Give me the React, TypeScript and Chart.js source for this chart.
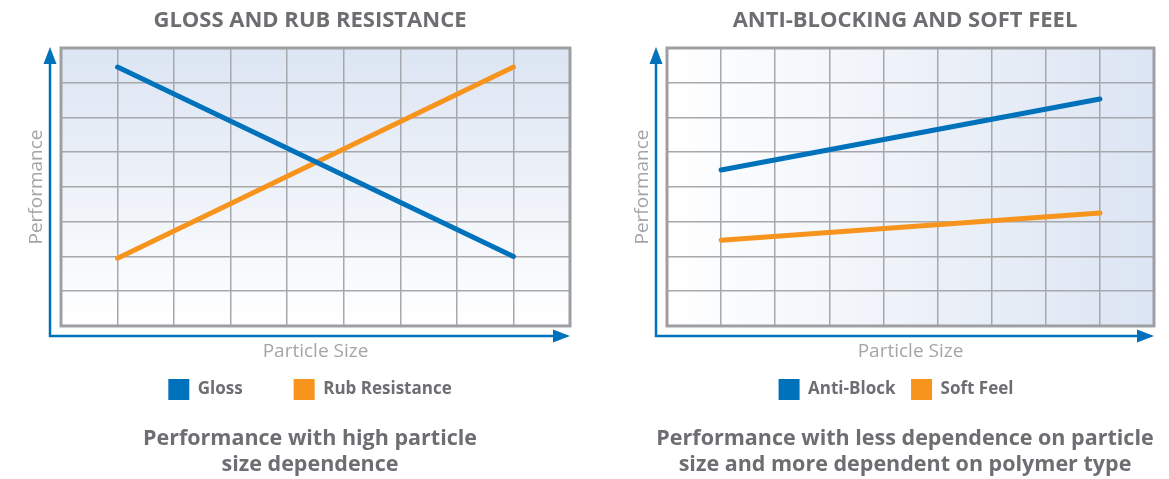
import React, { useEffect, useRef } from "react";
import { Chart, registerables } from "chart.js";

Chart.register(...registerables);

// ---- data ----
const particleSizePositions = [1, 8];
const glossValues = [7.45, 2.0];
const rubResistanceValues = [1.95, 7.45];
const antiBlockValues = [4.49, 6.53];
const softFeelValues = [2.47, 3.25];

const leftSeriesNames = ["Gloss", "Rub Resistance"];
const rightSeriesNames = ["Anti-Block", "Soft Feel"];
const leftTitle = "GLOSS AND RUB RESISTANCE";
const rightTitle = "ANTI-BLOCKING AND SOFT FEEL";
const leftCaption = ["Performance with high particle", "size dependence"];
const rightCaption = [
  "Performance with less dependence on particle",
  "size and more dependent on polymer type",
];
const xAxisTitle = "Particle Size";
const yAxisTitle = "Performance";
const xRange = [0, 9];
const yRange = [0, 8];

// ---- styles ----
const BLUE = "#0072BC";
const ORANGE = "#F7941D";
const TEXT_DARK = "#6D6E71";
const TEXT_LIGHT = "#A3A5A8";
const GRID = "#A6A8AB";
const FRAME = "#9D9FA2";
const FONT = "'Open Sans', 'Noto Sans', sans-serif";

const decorPlugin = {
  id: "panelDecor",
  afterLayout(chart: any, _args: any, opts: any) {
    if (opts.legendShift && chart.legend) {
      chart.legend.left += opts.legendShift;
      chart.legend.right += opts.legendShift;
    }
  },
  beforeDraw(chart: any, _args: any, opts: any) {
    const { ctx, chartArea } = chart;
    const { left, top, right, bottom } = chartArea;
    const g = opts.horizontal
      ? ctx.createLinearGradient(left, 0, right, 0)
      : ctx.createLinearGradient(0, top, 0, bottom);
    g.addColorStop(0, opts.from);
    g.addColorStop(1, opts.to);
    ctx.save();
    ctx.fillStyle = g;
    ctx.fillRect(left, top, right - left, bottom - top);
    ctx.restore();
  },
  beforeDatasetsDraw(chart: any) {
    const { ctx, chartArea } = chart;
    const { left, top, right, bottom } = chartArea;
    ctx.save();
    ctx.strokeStyle = FRAME;
    ctx.lineWidth = 3;
    ctx.strokeRect(left, top, right - left, bottom - top);
    ctx.restore();
  },
  afterDraw(chart: any) {
    const { ctx, chartArea } = chart;
    const { left, top, right, bottom } = chartArea;
    const ax = left - 11;
    const ay = bottom + 10;
    ctx.save();
    ctx.strokeStyle = BLUE;
    ctx.fillStyle = BLUE;
    ctx.lineWidth = 2.5;
    ctx.beginPath();
    ctx.moveTo(ax, top + 12);
    ctx.lineTo(ax, ay);
    ctx.lineTo(right - 12, ay);
    ctx.stroke();
    // up arrow head
    ctx.beginPath();
    ctx.moveTo(ax, top - 1);
    ctx.lineTo(ax - 6.5, top + 16);
    ctx.lineTo(ax + 6.5, top + 16);
    ctx.closePath();
    ctx.fill();
    // right arrow head
    ctx.beginPath();
    ctx.moveTo(right, ay);
    ctx.lineTo(right - 17, ay - 6.5);
    ctx.lineTo(right - 17, ay + 6.5);
    ctx.closePath();
    ctx.fill();
    ctx.restore();
  },
};

type PanelSpec = {
  title: string;
  names: string[];
  legendTexts: string[];
  series: number[][];
  caption: string[];
  yWidth: number;
  padWidth: number;
  yTitlePad: number;
  horizontal: boolean;
  legendShift: number;
};

function makeConfig(p: PanelSpec): any {
  const colors = [BLUE, ORANGE];
  return {
    type: "line",
    data: {
      datasets: p.series.map((vals, i) => ({
        label: p.names[i],
        data: particleSizePositions.map((x, j) => ({ x, y: vals[j] })),
        borderColor: colors[i],
        backgroundColor: colors[i],
        borderWidth: 5,
        borderCapStyle: "round",
        pointRadius: 0,
        fill: false,
        tension: 0,
      })),
    },
    options: {
      responsive: false,
      animation: false,
      devicePixelRatio: 1,
      events: [],
      layout: { padding: 0 },
      scales: {
        x: {
          type: "linear",
          min: xRange[0],
          max: xRange[1],
          ticks: { display: false, stepSize: 1 },
          grid: { color: GRID, lineWidth: 1.5, drawTicks: false },
          border: { display: false },
          title: {
            display: true,
            text: xAxisTitle,
            color: TEXT_LIGHT,
            font: { family: FONT, size: 19, lineHeight: 1.2 },
            padding: { top: 0, bottom: 0 },
          },
          afterFit: (s: any) => {
            s.height = 37.4;
          },
        },
        y: {
          type: "linear",
          min: yRange[0],
          max: yRange[1],
          ticks: { display: false, stepSize: 1 },
          grid: { color: GRID, lineWidth: 1.5, drawTicks: false },
          border: { display: false },
          title: {
            display: true,
            text: yAxisTitle,
            color: TEXT_LIGHT,
            font: { family: FONT, size: 19, lineHeight: 1.2 },
            padding: { top: p.yTitlePad, bottom: 0 },
          },
          afterFit: (s: any) => {
            s.width = p.yWidth;
          },
        },
        pad: {
          type: "linear",
          position: "right",
          display: true,
          grid: { display: false },
          ticks: { display: false },
          border: { display: false },
          afterFit: (s: any) => {
            s.width = p.padWidth;
          },
        },
      },
      plugins: {
        title: {
          display: true,
          text: p.title,
          color: TEXT_DARK,
          font: { family: FONT, size: 22, weight: "bold", lineHeight: 1.2 },
          padding: { top: 7.8, bottom: 13.8 },
        },
        subtitle: {
          display: true,
          position: "bottom",
          text: p.caption,
          color: TEXT_DARK,
          font: { family: FONT, size: 21.5, weight: "bold", lineHeight: 1.21 },
          padding: { top: 16, bottom: 1 },
        },
        legend: {
          display: true,
          position: "bottom",
          labels: {
            boxWidth: 21,
            boxHeight: 21,
            padding: 15.6,
            color: TEXT_DARK,
            font: { family: FONT, size: 17, weight: "bold" },
            generateLabels: (chart: any) =>
              chart.data.datasets.map((ds: any, i: number) => ({
                text: p.legendTexts[i],
                fillStyle: ds.borderColor,
                strokeStyle: ds.borderColor,
                lineWidth: 0,
                hidden: false,
                datasetIndex: i,
                fontColor: TEXT_DARK,
              })),
          },
        },
        tooltip: { enabled: false },
        panelDecor: {
          horizontal: p.horizontal,
          from: p.horizontal ? "#FFFFFF" : "#DCE5F3",
          to: p.horizontal ? "#DCE5F3" : "#FFFFFF",
          legendShift: p.legendShift,
        },
      },
    },
    plugins: [decorPlugin],
  };
}

function Panel({ spec, left, width }: { spec: PanelSpec; left: number; width: number }) {
  const ref = useRef<HTMLCanvasElement | null>(null);
  useEffect(() => {
    if (!ref.current) return;
    const chart = new Chart(ref.current, makeConfig(spec));
    return () => chart.destroy();
  }, []);
  return (
    <canvas
      ref={ref}
      width={width}
      height={479}
      style={{ position: "absolute", left, top: 0, width, height: 479 }}
    />
  );
}

export default function App() {
  const leftSpec: PanelSpec = {
    title: leftTitle,
    names: leftSeriesNames,
    legendTexts: [leftSeriesNames[0] + "\u00a0".repeat(8), leftSeriesNames[1]],
    series: [glossValues, rubResistanceValues],
    caption: leftCaption,
    yWidth: 61,
    padWidth: 50,
    yTitlePad: 25.6,
    horizontal: false,
    legendShift: 0,
  };
  const rightSpec: PanelSpec = {
    title: rightTitle,
    names: rightSeriesNames,
    legendTexts: rightSeriesNames,
    series: [antiBlockValues, softFeelValues],
    caption: rightCaption,
    yWidth: 37,
    padWidth: 26,
    yTitlePad: 1.6,
    horizontal: true,
    legendShift: -9,
  };
  return (
    <div
      style={{
        position: "fixed",
        left: 0,
        top: 0,
        width: 1169,
        height: 479,
        overflow: "hidden",
        background: "#ffffff",
      }}
    >
      <Panel spec={leftSpec} left={0} width={620} />
      <Panel spec={rightSpec} left={630} width={550} />
    </div>
  );
}
